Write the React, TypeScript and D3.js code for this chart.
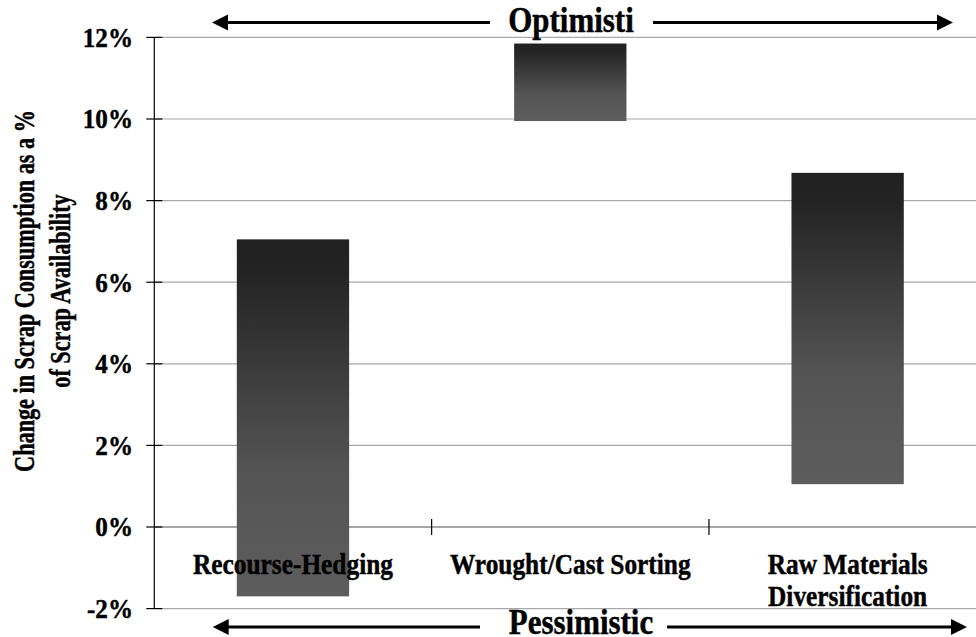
import React from "react";
import * as d3 from "d3";

const categories = ["Recourse-Hedging", "Wrought/Cast Sorting", "Raw Materials\nDiversification"];
const lowValues = [-1.7, 9.95, 1.05];
const highValues = [7.05, 11.85, 8.68];
const yTicks = [-2, 0, 2, 4, 6, 8, 10, 12];
const yTitleLines = ["Change in Scrap Consumption as a %", "of Scrap Availability"];
const topLabel = "Optimisti";
const bottomLabel = "Pessimistic";

const W = 976;
const H = 637;
const FONT = "'Liberation Serif', 'Times New Roman', serif";

type STProps = {
  x: number;
  y: number;
  size: number;
  sx: number;
  anchor: "start" | "middle" | "end";
  rotate?: number;
  dy?: string;
  children: React.ReactNode;
};

function SText({ x, y, size, sx, anchor, rotate = 0, dy, children }: STProps) {
  return (
    <g transform={`translate(${x},${y}) rotate(${rotate}) scale(${sx},1)`}>
      <text x={0} y={0} dy={dy} textAnchor={anchor} fontFamily={FONT} fontWeight="bold" fontSize={size} fill="#000" stroke="#000" strokeWidth={0.45}>
        {children}
      </text>
    </g>
  );
}

export default function App() {
  const y = d3.scaleLinear().domain([-2, 12]).range([608.6, 37.4]);
  const x = d3.scaleBand<string>().domain(categories).range([154.3, 986.3]).padding(0);
  const step = x.step();
  const barW = step * 0.405;
  const axisX = 154.3;

  const arrowHead = (tipX: number, yy: number, dir: number) => {
    const len = 16;
    const half = 8;
    return `M${tipX},${yy} L${tipX - dir * len},${yy - half} L${tipX - dir * len},${yy + half} Z`;
  };

  return (
    <svg width={W} height={H} style={{ position: "absolute", left: 0, top: 0, background: "#fff" }}>
      <defs>
        <linearGradient id="barGrad" x1="0" y1="0" x2="0" y2="1">
          <stop offset="0" stopColor="#212121" />
          <stop offset="0.1" stopColor="#242424" />
          <stop offset="0.65" stopColor="#545454" />
          <stop offset="1" stopColor="#5d5d5d" />
        </linearGradient>
      </defs>

      {/* gridlines */}
      {yTicks.map((t) => (
        <line key={"g" + t} x1={axisX} x2={W} y1={y(t)} y2={y(t)} stroke={t === 0 ? "#888" : "#a8a8a8"} strokeWidth={t === 0 ? 1.5 : 1.2} />
      ))}

      {/* bars */}
      {categories.map((c, i) => {
        const cx = (x(c) as number) + step / 2;
        return (
          <rect key={c} x={cx - barW / 2} width={barW} y={y(highValues[i])} height={y(lowValues[i]) - y(highValues[i])} fill="url(#barGrad)" />
        );
      })}

      {/* y axis */}
      <line x1={axisX} x2={axisX} y1={y(12)} y2={y(-2)} stroke="#000" strokeWidth={1.2} />
      {yTicks.map((t) => (
        <g key={"t" + t}>
          <line x1={axisX - 8} x2={axisX + 8} y1={y(t)} y2={y(t)} stroke="#000" strokeWidth={1.2} />
          <SText x={133} y={y(t)} dy="0.35em" anchor="end" size={27} sx={0.93}>
            {t + "%"}
          </SText>
        </g>
      ))}

      {/* category ticks on zero line */}
      {categories.slice(1).map((c) => (
        <line key={"ct" + c} x1={x(c) as number} x2={x(c) as number} y1={y(0) - 8} y2={y(0) + 8} stroke="#000" strokeWidth={1.2} />
      ))}

      {/* category labels */}
      {categories.map((c) => {
        const cx = (x(c) as number) + step / 2;
        return c.split("\n").map((line, j) => (
          <SText key={c + j} x={cx} y={574 + j * 32} anchor="middle" size={28.5} sx={0.89}>
            {line}
          </SText>
        ));
      })}

      {/* y title */}
      {yTitleLines.map((line, j) => (
        <SText key={line} x={33.5 + j * 36} y={291} rotate={-90} anchor="middle" size={28.5} sx={0.78}>
          {line}
        </SText>
      ))}

      {/* top arrow */}
      <line x1={220} x2={490} y1={22.5} y2={22.5} stroke="#000" strokeWidth={3} />
      <line x1={653} x2={945} y1={22.5} y2={22.5} stroke="#000" strokeWidth={3} />
      <path d={arrowHead(212, 22.5, -1)} fill="#000" />
      <path d={arrowHead(953, 22.5, 1)} fill="#000" />
      <SText x={571} y={32} anchor="middle" size={36} sx={0.86}>
        {topLabel}
      </SText>

      {/* bottom arrow */}
      <line x1={220} x2={480} y1={627} y2={627} stroke="#000" strokeWidth={3} />
      <line x1={667} x2={959} y1={627} y2={627} stroke="#000" strokeWidth={3} />
      <path d={arrowHead(212.7, 627, -1)} fill="#000" />
      <path d={arrowHead(967, 627, 1)} fill="#000" />
      <SText x={581} y={634} anchor="middle" size={36} sx={0.86}>
        {bottomLabel}
      </SText>
    </svg>
  );
}
